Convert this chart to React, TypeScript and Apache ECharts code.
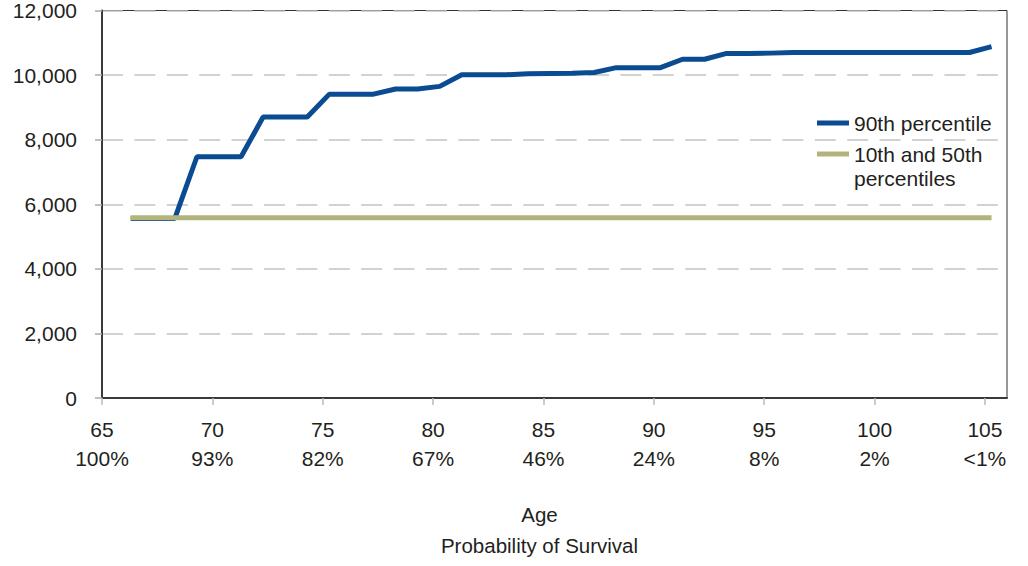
import React, { useEffect, useRef } from "react";
import * as echarts from "echarts";

const AGES = [66, 67, 68, 69, 70, 71, 72, 73, 74, 75, 76, 77, 78, 79, 80, 81, 82, 83, 84, 85, 86, 87, 88, 89, 90, 91, 92, 93, 94, 95, 96, 97, 98, 99, 100, 101, 102, 103, 104, 105];
const P90 = [5560, 5560, 5560, 7470, 7470, 7470, 8700, 8700, 8700, 9410, 9410, 9410, 9570, 9570, 9650, 10010, 10010, 10010, 10040, 10050, 10060, 10080, 10230, 10230, 10230, 10490, 10490, 10670, 10670, 10680, 10700, 10700, 10700, 10700, 10700, 10700, 10700, 10700, 10700, 10880];
const P10_50 = [5580, 5580, 5580, 5580, 5580, 5580, 5580, 5580, 5580, 5580, 5580, 5580, 5580, 5580, 5580, 5580, 5580, 5580, 5580, 5580, 5580, 5580, 5580, 5580, 5580, 5580, 5580, 5580, 5580, 5580, 5580, 5580, 5580, 5580, 5580, 5580, 5580, 5580, 5580, 5580];
const TICK_AGES = [65, 70, 75, 80, 85, 90, 95, 100, 105];
const SURVIVAL = ["100%", "93%", "82%", "67%", "46%", "24%", "8%", "2%", "<1%"];
const NAME_90 = "90th percentile";
const NAME_10_50 = "10th and 50th\npercentiles";
// data points sit slightly right of their age tick in the original
const POINT_SHIFT = 0.3;

const FONT = "'Liberation Sans', Arial, Helvetica, sans-serif";
const TEXT = "#231f20";

export default function App() {
  const ref = useRef<HTMLDivElement>(null);
  useEffect(() => {
    if (!ref.current) return;
    const chart = echarts.init(ref.current, null, { renderer: "svg" });
    const pts = (vals: number[]) => AGES.map((a, i) => [a + POINT_SHIFT, vals[i]]);
    chart.setOption({
      animation: false,
      backgroundColor: "#ffffff",
      grid: {
        left: 102,
        right: 21,
        top: 10,
        bottom: 165,
        show: true,
        borderColor: "#333",
        borderWidth: 1,
        containLabel: false,
      },
      legend: [
        {
          left: 817,
          top: 111,
          padding: 0,
          orient: "vertical",
          icon: "rect",
          itemWidth: 32,
          itemHeight: 5,
          data: [NAME_90],
          textStyle: { fontSize: 21, lineHeight: 24, color: TEXT, fontFamily: FONT },
        },
        {
          left: 817,
          top: 118,
          padding: 0,
          orient: "vertical",
          icon: "rect",
          itemWidth: 32,
          itemHeight: 5,
          data: [NAME_10_50],
          // a blank first line keeps the first text line level with the swatch
          formatter: (name: string) => "\u00a0\n" + name,
          textStyle: { fontSize: 21, lineHeight: 24, color: TEXT, fontFamily: FONT },
        },
      ],
      xAxis: {
        type: "value",
        min: 65,
        max: 106,
        interval: 5,
        name: "Age\nProbability of Survival",
        nameLocation: "middle",
        nameGap: 101,
        nameTextStyle: {
          fontSize: 20.5,
          lineHeight: 31,
          color: TEXT,
          fontFamily: FONT,
          padding: [0, 30, 0, 0],
        },
        axisLine: { show: true, lineStyle: { color: "#3a3a3a", width: 2 } },
        axisTick: {
          show: true,
          customValues: TICK_AGES,
          length: 7,
          lineStyle: { color: "#bbbbbb", width: 1.5 },
        },
        axisLabel: {
          customValues: TICK_AGES,
          margin: 17,
          fontSize: 21,
          lineHeight: 29,
          color: TEXT,
          fontFamily: FONT,
          formatter: (v: number) => {
            const i = TICK_AGES.indexOf(v);
            return i >= 0 ? `${v}\n${SURVIVAL[i]}` : "";
          },
        },
        splitLine: { show: false },
      },
      yAxis: {
        type: "value",
        min: 0,
        max: 12000,
        interval: 2000,
        axisLine: { show: true, lineStyle: { color: "#3a3a3a", width: 2 } },
        axisTick: { show: true, length: 7, lineStyle: { color: "#aaaaaa", width: 1.5 } },
        axisLabel: {
          margin: 25,
          fontSize: 21,
          color: TEXT,
          fontFamily: FONT,
          formatter: (v: number) => v.toLocaleString("en-US"),
        },
        splitLine: {
          show: true,
          lineStyle: { color: "#c4c4c4", width: 1.5, type: [21, 11.4] },
        },
      },
      series: [
        {
          name: NAME_90,
          type: "line",
          data: pts(P90),
          symbol: "none",
          lineStyle: { color: "#0a4b91", width: 5 },
          itemStyle: { color: "#0a4b91" },
        },
        {
          name: NAME_10_50,
          type: "line",
          data: pts(P10_50),
          symbol: "none",
          lineStyle: { color: "#b2b47c", width: 5 },
          itemStyle: { color: "#b2b47c" },
        },
      ],
    });
    return () => chart.dispose();
  }, []);
  return (
    <div
      ref={ref}
      style={{ position: "absolute", left: 0, top: 0, width: 1028, height: 566 }}
    />
  );
}
